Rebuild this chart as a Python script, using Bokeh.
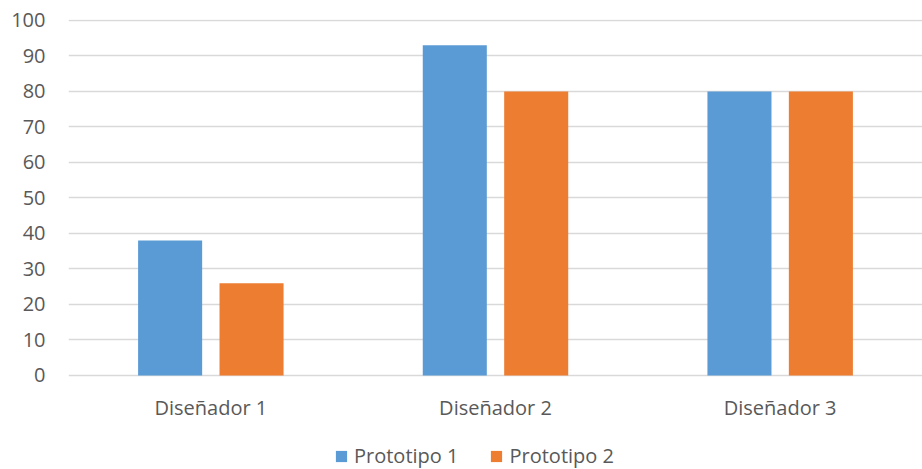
from bokeh.plotting import figure
from bokeh.models import ColumnDataSource, FactorRange, FixedTicker, Legend, LegendItem
from bokeh.core.properties import value
from bokeh.transform import dodge
from bokeh.embed import file_html
from bokeh.resources import INLINE

categories = ["Diseñador 1", "Diseñador 2", "Diseñador 3"]
prototipo_1 = [38, 93, 80]
prototipo_2 = [26, 80, 80]
series_names = ["Prototipo 1", "Prototipo 2"]
y_ticks = list(range(0, 101, 10))

FONT = "Open Sans"
TEXT = "#595959"
FS = "20px"

source = ColumnDataSource(dict(cat=categories, p1=prototipo_1, p2=prototipo_2))

p = figure(width=922, height=469, x_range=FactorRange(*categories, range_padding=0),
           y_range=(-26.48, 100.28), output_backend="svg", toolbar_location=None,
           min_border_left=68, min_border_right=0, min_border_top=19, min_border_bottom=0)
p.outline_line_color = None
p.background_fill_color = "white"
p.border_fill_color = "white"

r1 = p.vbar(x=dodge("cat", -0.143, range=p.x_range), top="p1", width=0.225, source=source,
            fill_color="#5B9BD5", line_color=None)
r2 = p.vbar(x=dodge("cat", 0.143, range=p.x_range), top="p2", width=0.225, source=source,
            fill_color="#ED7D31", line_color=None)

# category labels under the baseline
p.text(x="cat", y=-9, text="cat", source=source, text_align="center",
       text_baseline="middle", text_font=value(FONT), text_font_size=FS, text_color=TEXT)

p.xaxis.visible = False
p.xgrid.grid_line_color = None
p.ygrid.grid_line_color = "#d9d9d9"
p.ygrid.grid_line_width = 1.5
p.yaxis.ticker = FixedTicker(ticks=y_ticks)

ax = p.yaxis[0]
ax.axis_line_color = None
ax.major_tick_line_color = None
ax.minor_tick_line_color = None
ax.major_tick_in = 0
ax.major_tick_out = 0
ax.minor_tick_out = 0
ax.major_label_text_font = FONT
ax.major_label_text_font_size = FS
ax.major_label_text_color = TEXT
ax.major_label_standoff = 23

legend = Legend(items=[LegendItem(label=series_names[0], renderers=[r1]),
                       LegendItem(label=series_names[1], renderers=[r2])],
                orientation="horizontal", location=(266, 0),
                padding=0, margin=0, spacing=31, label_standoff=6,
                glyph_width=14, glyph_height=14,
                label_text_font=FONT, label_text_font_size=FS, label_text_color=TEXT,
                border_line_color=None, background_fill_alpha=0)
p.add_layout(legend, "center")

open("out.html", "w").write(file_html(p, INLINE))
